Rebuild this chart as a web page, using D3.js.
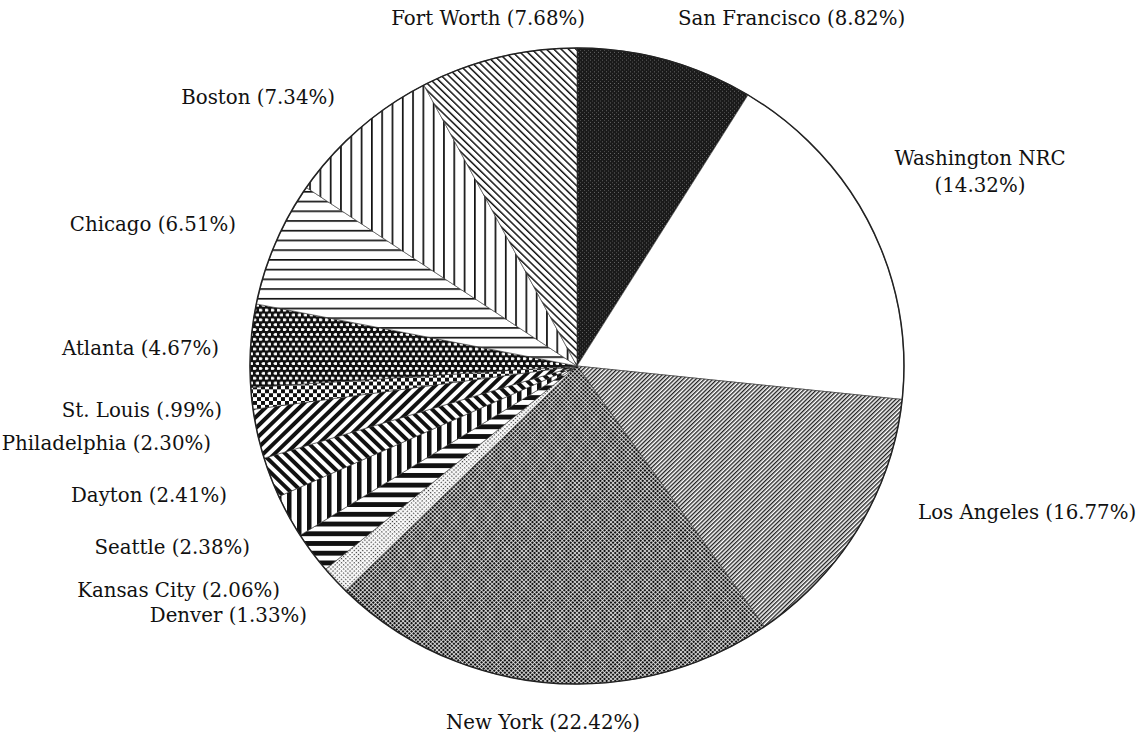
<html>
<head>
<meta charset="utf-8">
<script src="https://cdn.jsdelivr.net/npm/d3@7"></script>
<style>
  body { margin: 0; background: #fff; }
  text { font-family: "DejaVu Serif", "Liberation Serif", serif; font-size: 19.8px; fill: #111; }
</style>
</head>
<body>
<div id="chart"></div>
<script>
// cities clockwise from 12 o'clock
var cities = ["San Francisco", "Washington NRC", "Los Angeles", "New York", "Denver",
  "Kansas City", "Seattle", "Dayton", "Philadelphia", "St. Louis", "Atlanta",
  "Chicago", "Boston", "Fort Worth"];
// percentages printed in the labels
var pctText = ["8.82%", "14.32%", "16.77%", "22.42%", "1.33%", "2.06%", "2.38%",
  "2.41%", "2.30%", ".99%", "4.67%", "6.51%", "7.34%", "7.68%"];
// slice sizes as drawn in the picture (percent of the circle)
var sliceShare = [8.75, 17.9, 13.6, 22.2, 1.45, 2.1, 2.2, 2.05, 2.5, 1.1, 4.2, 6.35, 7.75, 7.75];

var width = 1143, height = 740;
var cx = 577, cy = 366;
var rx = 327, ry = 318;

// label placement: [x, y, anchor, lines]
var labelLayout = [
  [678, 18, "start"], [980, 158, "middle", 2], [918, 512, "start"], [543, 722, "middle"],
  [307, 615, "end"], [280, 590, "end"], [250, 547, "end"], [227, 495, "end"],
  [211, 443, "end"], [222, 410, "end"], [219, 348, "end"], [236, 224, "end"],
  [335, 97, "end"], [585, 18, "end"]
];

var svg = d3.select("#chart").append("svg").attr("width", width).attr("height", height);
var defs = svg.append("defs");

function stripes(id, size, angle, w, color) {
  var p = defs.append("pattern").attr("id", id).attr("patternUnits", "userSpaceOnUse")
    .attr("width", size).attr("height", size)
    .attr("patternTransform", "rotate(" + angle + ")");
  p.append("rect").attr("width", size).attr("height", size).attr("fill", "#fff");
  p.append("rect").attr("width", w).attr("height", size).attr("fill", color);
}
function dots(id, size, angle, d, color, bg) {
  var p = defs.append("pattern").attr("id", id).attr("patternUnits", "userSpaceOnUse")
    .attr("width", size).attr("height", size)
    .attr("patternTransform", "rotate(" + angle + ")");
  p.append("rect").attr("width", size).attr("height", size).attr("fill", bg);
  p.append("rect").attr("width", d).attr("height", d).attr("fill", color);
}

// San Francisco: dark speckle
var sf = defs.append("pattern").attr("id", "p0").attr("patternUnits", "userSpaceOnUse")
  .attr("width", 4).attr("height", 4);
sf.append("rect").attr("width", 4).attr("height", 4).attr("fill", "#1a1a1a");
sf.append("rect").attr("x", 1).attr("y", 1).attr("width", 1).attr("height", 1).attr("fill", "#666");
sf.append("rect").attr("x", 3).attr("y", 3).attr("width", 1).attr("height", 1).attr("fill", "#505050");

stripes("p2", 3, 45, 1.4, "#222");          // Los Angeles fine hatch
dots("p3", 3, 45, 2.2, "#111", "#f4f4f4");   // New York checker
dots("p4", 3, 45, 1.3, "#333", "#fff");      // Denver light dots
stripes("p5", 10, 90, 5, "#111");           // Kansas City
stripes("p6", 10, 0, 4.5, "#111");          // Seattle
stripes("p7", 8, -45, 4, "#111");           // Dayton
stripes("p8", 8, 45, 4, "#111");            // Philadelphia

// St. Louis: checkerboard
var sl = defs.append("pattern").attr("id", "p9").attr("patternUnits", "userSpaceOnUse")
  .attr("width", 8).attr("height", 8);
sl.append("rect").attr("width", 8).attr("height", 8).attr("fill", "#fff");
sl.append("rect").attr("width", 4).attr("height", 4).attr("fill", "#111");
sl.append("rect").attr("x", 4).attr("y", 4).attr("width", 4).attr("height", 4).attr("fill", "#111");

// Atlanta: white dots on black
var at = defs.append("pattern").attr("id", "p10").attr("patternUnits", "userSpaceOnUse")
  .attr("width", 6).attr("height", 10);
at.append("rect").attr("width", 6).attr("height", 10).attr("fill", "#111");
at.append("ellipse").attr("cx", 1.5).attr("cy", 2.5).attr("rx", 2).attr("ry", 1.6).attr("fill", "#fff");
at.append("ellipse").attr("cx", 4.5).attr("cy", 7.5).attr("rx", 2).attr("ry", 1.6).attr("fill", "#fff");

stripes("p11", 10, 90, 1.7, "#111");        // Chicago
stripes("p12", 10.3, 0, 1.7, "#111");       // Boston
stripes("p13", 5.2, -45, 1.5, "#111");      // Fort Worth

var fills = ["url(#p0)", "#fff", "url(#p2)", "url(#p3)", "url(#p4)", "url(#p5)", "url(#p6)",
  "url(#p7)", "url(#p8)", "url(#p9)", "url(#p10)", "url(#p11)", "url(#p12)", "url(#p13)"];

var pie = d3.pie().sort(null).value(function(d) { return d; });
var arc = d3.arc().innerRadius(0).outerRadius(rx);

var g = svg.append("g")
  .attr("transform", "translate(" + cx + "," + cy + ") scale(1," + (ry / rx) + ")");

g.selectAll("path.slice")
  .data(pie(sliceShare))
  .enter()
  .append("path")
  .attr("class", "slice")
  .attr("d", arc)
  .attr("fill", function(d, i) { return fills[i]; })
  .attr("stroke", "#333")
  .attr("stroke-width", 0.6);

g.append("circle")
  .attr("r", rx)
  .attr("fill", "none")
  .attr("stroke", "#222")
  .attr("stroke-width", 1.5);

// labels
cities.forEach(function(c, i) {
  var L = labelLayout[i];
  var t = svg.append("text").attr("text-anchor", L[2]);
  if (L[3] === 2) {
    t.append("tspan").attr("x", L[0]).attr("y", L[1] + 7).text(c);
    t.append("tspan").attr("x", L[0]).attr("y", L[1] + 34).text("(" + pctText[i] + ")");
  } else {
    t.attr("x", L[0]).attr("y", L[1] + 7).text(c + " (" + pctText[i] + ")");
  }
});
</script>
</body>
</html>
